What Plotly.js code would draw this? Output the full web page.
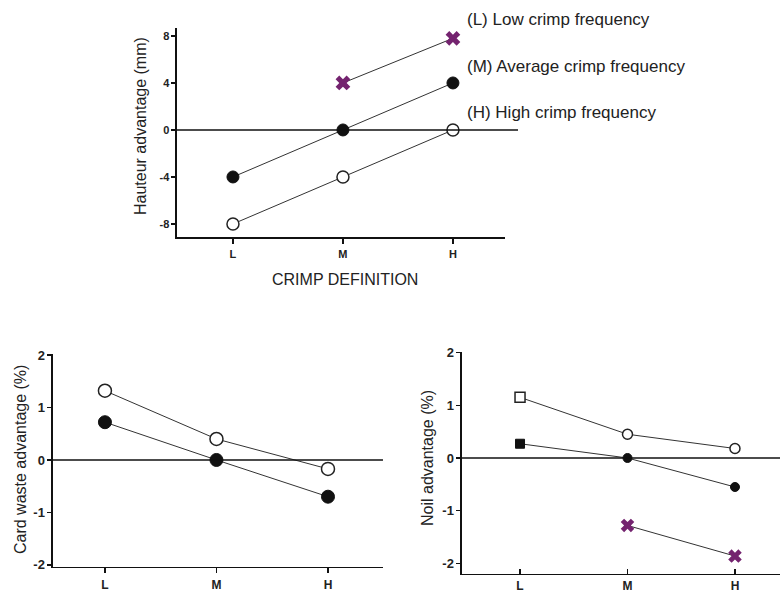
<!DOCTYPE html>
<html>
<head>
<meta charset="utf-8">
<script src="https://cdn.plot.ly/plotly-3.0.1.min.js"></script>
<style>
html,body{margin:0;padding:0;background:#fff;}
#chart{width:780px;height:594px;}
</style>
</head>
<body>
<div id="chart"></div>
<script>
// ---- Data ----
const categories = ['L', 'M', 'H'];

// Top: Hauteur advantage (mm)
const hauteurLow  = [null, 4, 7.8];
const hauteurAvg  = [-4, 0, 4];
const hauteurHigh = [-8, -4, 0];

// Bottom left: Card waste advantage (%)
const cardOpen   = [1.32, 0.40, -0.17];
const cardFilled = [0.72, 0.00, -0.70];

// Bottom right: Noil advantage (%)
const noilOpen   = [1.15, 0.45, 0.18];
const noilFilled = [0.27, 0.00, -0.55];
const noilCross  = [null, -1.28, -1.86];

const legendLabels = ['(L) Low crimp frequency', '(M) Average crimp frequency', '(H) High crimp frequency'];
const topYTicks = [-8, -4, 0, 4, 8];
const bottomYTicks = [-2, -1, 0, 1, 2];

// ---- Styles ----
const FONT = 'Arial, "Liberation Sans", sans-serif';
const TXT = '#222';
const LINE = {color: '#333', width: 1};
const PURPLE = '#74236f';

function filled(size, sym) {
  return {symbol: sym || 'circle', size: size, color: '#111', line: {color: '#111', width: 1}};
}
function open(size, sym) {
  return {symbol: sym || 'circle', size: size, color: '#fff', line: {color: '#222', width: 1.5}};
}
function cross(size) {
  return {symbol: 'x', size: size, color: PURPLE, line: {color: PURPLE, width: 0}};
}

const traces = [
  // top
  {x: categories, y: hauteurHigh, xaxis: 'x', yaxis: 'y', mode: 'lines+markers', line: LINE, marker: open(12), cliponaxis: false},
  {x: categories, y: hauteurAvg, xaxis: 'x', yaxis: 'y', mode: 'lines+markers', line: LINE, marker: filled(12), cliponaxis: false},
  {x: categories, y: hauteurLow, xaxis: 'x', yaxis: 'y', mode: 'lines+markers', line: LINE, marker: cross(13), cliponaxis: false},
  // bottom left
  {x: categories, y: cardOpen, xaxis: 'x2', yaxis: 'y2', mode: 'lines+markers', line: LINE, marker: open(13), cliponaxis: false},
  {x: categories, y: cardFilled, xaxis: 'x2', yaxis: 'y2', mode: 'lines+markers', line: LINE, marker: filled(13), cliponaxis: false},
  // bottom right
  {x: categories, y: noilOpen, xaxis: 'x3', yaxis: 'y3', mode: 'lines+markers', line: LINE,
   marker: {symbol: ['square', 'circle', 'circle'], size: 10, color: '#fff', line: {color: '#222', width: 1.5}}, cliponaxis: false},
  {x: categories, y: noilFilled, xaxis: 'x3', yaxis: 'y3', mode: 'lines+markers', line: LINE,
   marker: {symbol: ['square', 'circle', 'circle'], size: 9, color: '#111', line: {color: '#111', width: 1}}, cliponaxis: false},
  {x: categories, y: noilCross, xaxis: 'x3', yaxis: 'y3', mode: 'lines+markers', line: LINE, marker: cross(12), cliponaxis: false}
];

function xAxis(domain, range, anchor, size, tickdir, standoff) {
  return {
    domain: domain, range: range, anchor: anchor, type: 'category',
    showline: true, linecolor: '#111', linewidth: 1.5,
    ticks: tickdir, ticklen: 5, tickwidth: 1.5, tickcolor: '#111',
    ticklabelstandoff: standoff,
    showgrid: false, zeroline: false, fixedrange: true,
    tickfont: {family: FONT, size: size, color: TXT, weight: 'bold'}
  };
}
function yAxis(domain, range, anchor, vals, size) {
  return {
    domain: domain, range: range, anchor: anchor,
    showline: true, linecolor: '#111', linewidth: 1.5,
    ticks: 'outside', ticklen: 4, tickwidth: 1.5, tickcolor: '#111',
    tickmode: 'array', tickvals: vals, ticktext: vals.map(String),
    showgrid: false, zeroline: false, fixedrange: true,
    tickfont: {family: FONT, size: size, color: TXT, weight: 'bold'}
  };
}

const layout = {
  width: 780, height: 594,
  margin: {l: 0, r: 0, t: 0, b: 0},
  paper_bgcolor: '#fff', plot_bgcolor: 'rgba(0,0,0,0)',
  showlegend: false,
  font: {family: FONT, color: TXT},
  xaxis:  xAxis([0.2269, 0.6474], [-0.509, 2.473], 'y', 11, 'outside', 1),
  yaxis:  yAxis([0.6010, 0.9529], [-9.11, 8.68], 'x', topYTicks, 11),
  xaxis2: xAxis([0.0679, 0.4910], [-0.466, 2.493], 'y2', 12, 'outside', 1),
  yaxis2: yAxis([0.0455, 0.4040], [-2.04, 2.02], 'x2', bottomYTicks, 13),
  xaxis3: xAxis([0.5923, 1.0], [-0.54, 2.419], 'y3', 12, 'inside', 0),
  yaxis3: yAxis([0.0337, 0.4074], [-2.20, 2.01], 'x3', bottomYTicks, 13),
  shapes: [
    {type: 'line', xref: 'paper', yref: 'y', x0: 0.2269, x1: 0.6641, y0: 0, y1: 0, line: {color: '#111', width: 1.5}},
    {type: 'line', xref: 'paper', yref: 'y2', x0: 0.0679, x1: 0.4910, y0: 0, y1: 0, line: {color: '#111', width: 1.5}},
    {type: 'line', xref: 'paper', yref: 'y3', x0: 0.5923, x1: 1.0, y0: 0, y1: 0, line: {color: '#111', width: 1.5}}
  ],
  annotations: [
    {text: 'Hauteur advantage (mm)', xref: 'paper', yref: 'paper', x: 140 / 780, y: 1 - 126 / 594,
     textangle: -90, showarrow: false, xanchor: 'center', yanchor: 'middle', font: {family: FONT, size: 16, color: TXT}},
    {text: 'CRIMP DEFINITION', xref: 'paper', yref: 'paper', x: 345 / 780, y: 1 - 279 / 594,
     showarrow: false, xanchor: 'center', yanchor: 'middle', font: {family: FONT, size: 16, color: TXT}},
    {text: 'Card waste advantage (%)', xref: 'paper', yref: 'paper', x: 20 / 780, y: 1 - 460 / 594,
     textangle: -90, showarrow: false, xanchor: 'center', yanchor: 'middle', font: {family: FONT, size: 16, color: TXT}},
    {text: 'Noil advantage (%)', xref: 'paper', yref: 'paper', x: 427 / 780, y: 1 - 458 / 594,
     textangle: -90, showarrow: false, xanchor: 'center', yanchor: 'middle', font: {family: FONT, size: 16, color: TXT}},
    {text: legendLabels[0], xref: 'paper', yref: 'paper', x: 465 / 780, y: 1 - 20 / 594,
     showarrow: false, xanchor: 'left', yanchor: 'middle', font: {family: FONT, size: 17, color: TXT}},
    {text: legendLabels[1], xref: 'paper', yref: 'paper', x: 465 / 780, y: 1 - 67 / 594,
     showarrow: false, xanchor: 'left', yanchor: 'middle', font: {family: FONT, size: 17, color: TXT}},
    {text: legendLabels[2], xref: 'paper', yref: 'paper', x: 465 / 780, y: 1 - 113 / 594,
     showarrow: false, xanchor: 'left', yanchor: 'middle', font: {family: FONT, size: 17, color: TXT}}
  ]
};

Plotly.newPlot('chart', traces, layout, {staticPlot: true, displayModeBar: false});
</script>
</body>
</html>
